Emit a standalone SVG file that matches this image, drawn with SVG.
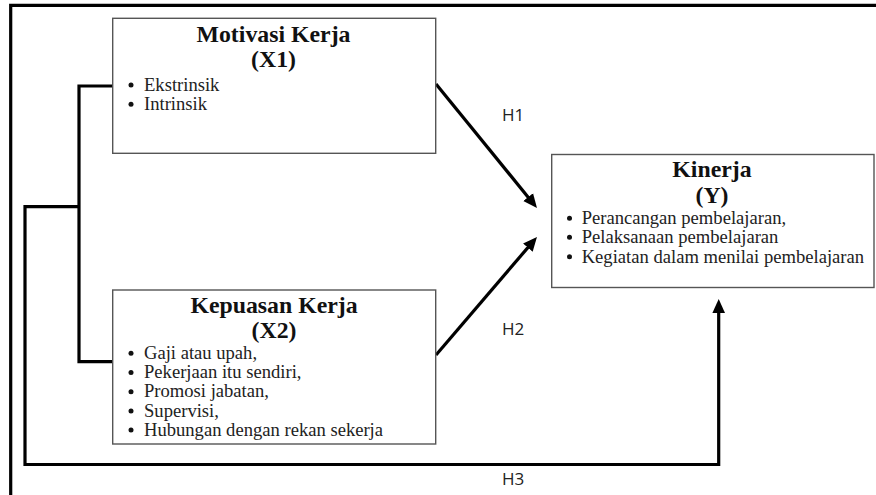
<svg xmlns="http://www.w3.org/2000/svg" width="876" height="495" viewBox="0 0 876 495">
<style>
.box{fill:#fff;stroke:#555;stroke-width:1.4}
.ttl{font-family:"Liberation Serif",serif;font-weight:bold;font-size:23.8px;fill:#111;text-anchor:middle}
.itm{font-family:"Liberation Serif",serif;font-size:18.6px;fill:#222}
.dot{fill:#111}
.con{fill:none;stroke:#000;stroke-width:3.2;stroke-linejoin:miter}
.lbl{font-family:"Open Sans",sans-serif;font-size:17px;fill:#222}
</style>
<defs>
<marker id="ah" viewBox="0 0 10 10" refX="3" refY="5" markerWidth="14" markerHeight="14" markerUnits="userSpaceOnUse" orient="auto">
<path d="M0,0.5 L10,5 L0,9.5 Z" fill="#000"/>
</marker>
</defs>
<rect width="876" height="495" fill="#fff"/>
<g id="frame">
<path class="con" d="M10.7,495 V5.3 H876"/>
</g>
<g id="connectors">
<path class="con" d="M112.7,86 H79 V361.7 H112.7"/>
<path class="con" d="M79,206.7 H25 V464.5 H718.7 V308.8" marker-end="url(#ah)"/>
<path class="con" d="M436,84 L530.8,200.4" marker-end="url(#ah)"/>
<path class="con" d="M436,355 L530.6,244.4" marker-end="url(#ah)"/>
<text class="lbl" x="502" y="121">H1</text>
<text class="lbl" x="502" y="335">H2</text>
<text class="lbl" x="502" y="485">H3</text>
</g>
<g id="motivasi">
<rect class="box" x="112.7" y="18.3" width="323" height="135"/>
<text class="ttl" x="273.5" y="41.7">Motivasi Kerja</text>
<text class="ttl" x="273.5" y="66.7">(X1)</text>
<circle class="dot" cx="131" cy="85" r="2.5"/>
<circle class="dot" cx="131" cy="104.3" r="2.5"/>
<text class="itm"><tspan x="144" y="90.7">Ekstrinsik</tspan><tspan x="144" y="110">Intrinsik</tspan></text>
</g>
<g id="kepuasan">
<rect class="box" x="112.7" y="290" width="323" height="154"/>
<text class="ttl" x="274" y="313.3">Kepuasan Kerja</text>
<text class="ttl" x="274" y="337.7">(X2)</text>
<circle class="dot" cx="131" cy="353.3" r="2.5"/>
<circle class="dot" cx="131" cy="372.5" r="2.5"/>
<circle class="dot" cx="131" cy="391.7" r="2.5"/>
<circle class="dot" cx="131" cy="410.9" r="2.5"/>
<circle class="dot" cx="131" cy="430.1" r="2.5"/>
<text class="itm"><tspan x="144" y="359">Gaji atau upah,</tspan><tspan x="144" y="378.2">Pekerjaan itu sendiri,</tspan><tspan x="144" y="397.4">Promosi jabatan,</tspan><tspan x="144" y="416.6">Supervisi,</tspan><tspan x="144" y="435.8">Hubungan dengan rekan sekerja</tspan></text>
</g>
<g id="kinerja">
<rect class="box" x="551.7" y="154.5" width="322.3" height="133"/>
<text class="ttl" x="712" y="176.7">Kinerja</text>
<text class="ttl" x="712" y="202.7">(Y)</text>
<circle class="dot" cx="569.5" cy="218.3" r="2.5"/>
<circle class="dot" cx="569.5" cy="237.3" r="2.5"/>
<circle class="dot" cx="569.5" cy="256.8" r="2.5"/>
<text class="itm"><tspan x="581.7" y="224">Perancangan pembelajaran,</tspan><tspan x="581.7" y="243">Pelaksanaan pembelajaran</tspan><tspan x="581.7" y="262.5">Kegiatan dalam menilai pembelajaran</tspan></text>
</g>
</svg>
